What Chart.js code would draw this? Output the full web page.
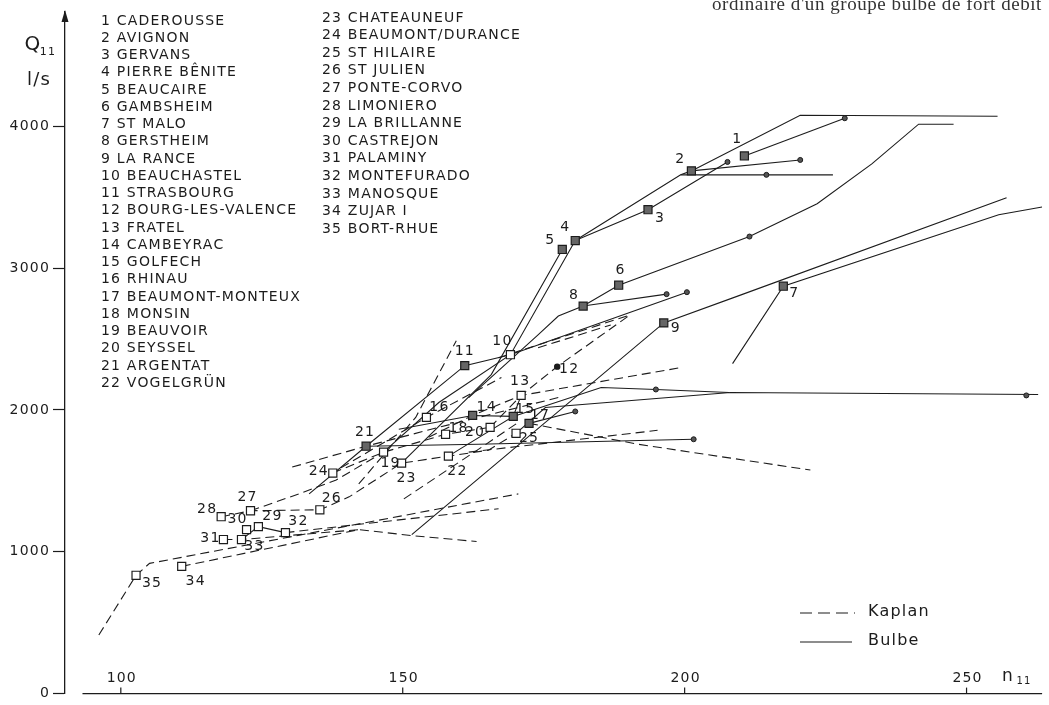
<!DOCTYPE html>
<html>
<head>
<meta charset="utf-8">
<title>Q11 / n11</title>
<script src="https://cdn.jsdelivr.net/npm/chart.js@4.4.1/dist/chart.umd.min.js"></script>
<style>
  html, body { margin: 0; padding: 0; background: #fff; }
  #box { width: 1049px; height: 705px; }
</style>
</head>
<body>
<div id="box"><canvas id="chart"></canvas></div>
<script>
// stations, numbered 1..35 in list order
const stationNames = [
  "CADEROUSSE", "AVIGNON", "GERVANS", "PIERRE BÊNITE", "BEAUCAIRE", "GAMBSHEIM",
  "ST MALO", "GERSTHEIM", "LA RANCE", "BEAUCHASTEL", "STRASBOURG", "BOURG-LES-VALENCE",
  "FRATEL", "CAMBEYRAC", "GOLFECH", "RHINAU", "BEAUMONT-MONTEUX", "MONSIN",
  "BEAUVOIR", "SEYSSEL", "ARGENTAT", "VOGELGRÜN", "CHATEAUNEUF", "BEAUMONT/DURANCE",
  "ST HILAIRE", "ST JULIEN", "PONTE-CORVO", "LIMONIERO", "LA BRILLANNE", "CASTREJON",
  "PALAMINY", "MONTEFURADO", "MANOSQUE", "ZUJAR I", "BORT-RHUE"
];
// design point of each station: n11 (tr/min) and Q11 (l/s)
const stationN = [210.6, 201.2, 193.5, 180.6, 178.3, 188.3, 217.5, 182.0, 196.3, 169.1,
  161.0, 177.4, 171.0, 162.4, 169.6, 154.2, 172.4, 157.6, 146.6, 165.5,
  143.5, 158.1, 149.8, 137.6, 170.1, 135.3, 123.0, 117.8, 124.4, 122.3,
  118.2, 129.2, 121.4, 110.8, 102.7];
const stationQ = [3790, 3685, 3411, 3194, 3131, 2879, 2872, 2732, 2613, 2389,
  2312, 2305, 2102, 1961, 1954, 1947, 1905, 1828, 1702, 1877,
  1744, 1674, 1625, 1555, 1835, 1296, 1289, 1247, 1177, 1156,
  1086, 1135, 1086, 897, 834];
const hatchedStations = [1, 2, 3, 4, 5, 6, 7, 8, 9, 11, 14, 15, 17, 21];
const dotStations = [12];

// small circles at the end of some curves
const endN = [228.4, 220.5, 207.6, 214.5, 211.5, 196.8, 200.4, 194.9, 201.6, 260.6, 180.6];
const endQ = [4056, 3762, 3748, 3657, 3222, 2816, 2830, 2144, 1793, 2102, 1989];

// curves as [n11, Q11] pairs
const bulbeLines = [
  [[180.6, 3194], [199.3, 3657], [201.2, 3685], [220.5, 4077], [255.5, 4070]],
  [[199.3, 3657], [226.3, 3657]],
  [[210.6, 3790], [228.4, 4056]],
  [[201.2, 3685], [220.5, 3762]],
  [[180.6, 3194], [193.5, 3411], [207.6, 3748]],
  [[146.6, 1702], [156.4, 2052], [169.1, 2389], [180.6, 3194]],
  [[150.5, 1653], [165.7, 2249], [178.3, 3131]],
  [[133.4, 1408], [143.5, 1744], [161.0, 2312], [169.1, 2389], [200.4, 2830]],
  [[182.0, 2732], [196.8, 2816]],
  [[161.7, 2087], [174.0, 2529], [177.6, 2662], [182.0, 2732], [188.3, 2879], [211.5, 3222],
   [223.5, 3453], [233.2, 3734], [241.5, 4014], [247.7, 4014]],
  [[151.6, 1121], [196.3, 2613], [209.4, 2802], [257.1, 3495]],
  [[208.5, 2326], [217.5, 2872], [255.7, 3376], [263.4, 3430]],
  [[143.5, 1744], [163.4, 1758], [201.6, 1793]],
  [[172.4, 1905], [180.6, 1989]],
  [[170.1, 1835], [175.3, 2017], [208.1, 2123], [262.7, 2109]],
  [[169.6, 1954], [185.2, 2158], [194.9, 2144], [207.9, 2123]],
  [[149.3, 1863], [162.4, 1961], [169.6, 1954]],
  [[158.1, 1674], [169.6, 1954], [171.0, 2102]],
  [[121.4, 1086], [124.4, 1177], [129.2, 1135]]
];
const kaplanLines = [
  [[96.1, 413], [102.7, 834], [105.1, 918], [170.5, 1408]],
  [[110.8, 897], [142.2, 1156], [151.6, 1114], [163.1, 1072]],
  [[118.2, 1086], [121.4, 1086], [142.2, 1156]],
  [[129.2, 1135], [167.0, 1303]],
  [[117.8, 1247], [123.0, 1289], [135.3, 1296], [140.5, 1387], [149.8, 1625], [158.1, 1674],
   [165.2, 1716], [170.1, 1835]],
  [[123.0, 1289], [131.6, 1408], [138.2, 1506], [146.6, 1702]],
  [[130.4, 1597], [143.5, 1744], [156.4, 1877], [170.5, 2017], [177.6, 2087]],
  [[137.6, 1555], [146.6, 1702], [157.6, 1828], [165.5, 1877]],
  [[142.2, 1478], [152.3, 1947], [159.5, 2487]],
  [[154.6, 1807], [162.4, 1961], [171.0, 2102], [199.3, 2298]],
  [[165.5, 1877], [171.0, 2102], [177.4, 2305], [190.3, 2669]],
  [[167.0, 2368], [190.3, 2669]],
  [[174.0, 2438], [186.9, 2599]],
  [[172.4, 1905], [191.7, 1758], [222.3, 1576]],
  [[161.7, 1702], [195.2, 1856]],
  [[136.9, 1541], [154.2, 1947], [167.5, 2228]],
  [[150.2, 1373], [164.0, 1737], [170.5, 1912]]
];

const nTicks = [100, 150, 200, 250];
const qTicks = [0, 1000, 2000, 3000, 4000];

const ink = "#1c1c1c";
const font = '"DejaVu Sans", sans-serif';

// where each station number sits relative to its square (px)
const labelOffsets = [
  [-7, -17], [-11, -12], [12, 9], [-10, -13], [-12, -9], [2, -15], [11, 7], [-9, -11], [12, 5], [-8, -13],
  [0, -14], [12, 3], [-1, -14], [14, -8], [12, -7], [13, -10], [11, -8], [13, -6], [7, 11], [-15, 5],
  [-1, -14], [9, 15], [5, 15], [-14, -2], [13, 5], [12, -11], [-3, -13], [-14, -7], [14, -10], [-9, -10],
  [-13, -1], [13, -11], [13, 7], [14, 15], [16, 8]
];

const toXY = (pts) => pts.map((p) => ({ x: p[0], y: p[1] }));

const datasets = [];
datasets.push({
  label: "stations",
  data: stationN.map((n, i) => ({ x: n, y: stationQ[i] })),
  showLine: false,
  order: 0,
  pointStyle: (c) => (dotStations.includes(c.dataIndex + 1) ? "circle" : "rect"),
  pointRadius: (c) => (dotStations.includes(c.dataIndex + 1) ? 2.6 : 5.7),
  pointBackgroundColor: (c) => {
    const k = c.dataIndex + 1;
    if (dotStations.includes(k)) return ink;
    return hatchedStations.includes(k) ? "#666" : "#fff";
  },
  pointBorderColor: ink,
  pointBorderWidth: 1.2
});
datasets.push({
  label: "ends",
  data: endN.map((n, i) => ({ x: n, y: endQ[i] })),
  showLine: false,
  order: 0,
  pointStyle: "circle",
  pointRadius: 2.5,
  pointBackgroundColor: "#555",
  pointBorderColor: ink,
  pointBorderWidth: 1
});
bulbeLines.forEach((l) => {
  datasets.push({ data: toXY(l), showLine: true, order: 1, borderColor: ink, borderWidth: 1.1, pointRadius: 0, tension: 0 });
});
kaplanLines.forEach((l) => {
  datasets.push({ data: toXY(l), showLine: true, order: 1, borderColor: ink, borderWidth: 1.1, borderDash: [9, 5], pointRadius: 0, tension: 0 });
});

const decor = {
  id: "decor",
  beforeDraw(chart) {
    chart.ctx.letterSpacing = "1.2px";
  },
  afterDraw(chart) {
    const ctx = chart.ctx;
    const xs = chart.scales.x, ys = chart.scales.y;
    const area = chart.chartArea;
    ctx.save();
    ctx.strokeStyle = ink;
    ctx.fillStyle = ink;
    ctx.lineWidth = 1.2;
    ctx.letterSpacing = "1.2px";

    // x axis along Q = 0, ticks pointing up, labels above
    const y0 = ys.getPixelForValue(0);
    ctx.beginPath();
    ctx.moveTo(xs.getPixelForValue(93.2), y0);
    ctx.lineTo(area.right, y0);
    ctx.stroke();
    ctx.font = "14px " + font;
    ctx.textAlign = "center";
    ctx.textBaseline = "middle";
    nTicks.forEach((v) => {
      const px = xs.getPixelForValue(v);
      ctx.beginPath();
      ctx.moveTo(px, y0);
      ctx.lineTo(px, y0 - 6);
      ctx.stroke();
      ctx.fillText(String(v), px + 1, y0 - 15);
    });
    ctx.font = "17px " + font;
    ctx.fillText("n", 1008, y0 - 17);
    ctx.font = "10px " + font;
    ctx.fillText("11", 1024, y0 - 12);

    // arrow on the y axis
    ctx.beginPath();
    ctx.moveTo(area.left, area.top - 2);
    ctx.lineTo(area.left - 3.5, area.top + 10);
    ctx.lineTo(area.left + 3.5, area.top + 10);
    ctx.closePath();
    ctx.fill();

    // axis title Q11 l/s
    ctx.font = "20px " + font;
    ctx.fillText("Q", 33, 45);
    ctx.font = "11px " + font;
    ctx.fillText("11", 48, 52);
    ctx.font = "18px " + font;
    ctx.fillText("l/s", 39, 80);

    // station list
    ctx.font = "14px " + font;
    ctx.textAlign = "left";
    stationNames.forEach((name, i) => {
      const txt = (i + 1) + " " + name;
      if (i < 22) ctx.fillText(txt, 101, 21 + i * 17.25);
      else ctx.fillText(txt, 322, 18 + (i - 22) * 17.6);
    });

    // station numbers beside their squares
    ctx.textAlign = "center";
    const pts = chart.getDatasetMeta(0).data;
    pts.forEach((p, i) => {
      const o = labelOffsets[i];
      ctx.fillText(String(i + 1), p.x + o[0], p.y + o[1]);
    });

    // legend
    ctx.lineWidth = 1.1;
    ctx.setLineDash([12, 6]);
    ctx.beginPath();
    ctx.moveTo(800, 613);
    ctx.lineTo(855, 613);
    ctx.stroke();
    ctx.setLineDash([]);
    ctx.beginPath();
    ctx.moveTo(800, 642);
    ctx.lineTo(852, 642);
    ctx.stroke();
    ctx.font = "16px " + font;
    ctx.textAlign = "left";
    ctx.fillText("Kaplan", 868, 612);
    ctx.fillText("Bulbe", 868, 641);

    // caption line cut off by the top edge of the scan
    ctx.font = '19px "Liberation Serif", serif';
    ctx.letterSpacing = "0px";
    const cap = "ordinaire d'un groupe bulbe de fort débit";
    const w = ctx.measureText(cap).width;
    ctx.letterSpacing = ((330 - w) / cap.length).toFixed(2) + "px";
    ctx.fillStyle = "#333";
    ctx.textBaseline = "alphabetic";
    ctx.fillText(cap, 712, 10);
    ctx.restore();
  }
};

new Chart(document.getElementById("chart"), {
  type: "scatter",
  data: { datasets },
  options: {
    responsive: true,
    maintainAspectRatio: false,
    animation: false,
    devicePixelRatio: 1,
    layout: { padding: { top: 12, right: 3, bottom: 7, left: 0 } },
    plugins: { legend: { display: false }, tooltip: { enabled: false } },
    scales: {
      x: { type: "linear", min: 90.1, max: 263.4, display: false },
      y: {
        type: "linear",
        min: 0,
        max: 4805,
        afterBuildTicks: (s) => { s.ticks = qTicks.map((v) => ({ value: v })); },
        afterFit: (s) => { s.width = 65; },
        border: { display: true, color: ink, width: 1.3 },
        grid: { drawOnChartArea: false, drawTicks: true, tickLength: 12, tickColor: ink, tickWidth: 1.2 },
        ticks: {
          padding: 3,
          color: ink,
          font: { family: font, size: 14 },
          callback: (v) => String(v)
        }
      }
    }
  },
  plugins: [decor]
});
</script>
</body>
</html>
